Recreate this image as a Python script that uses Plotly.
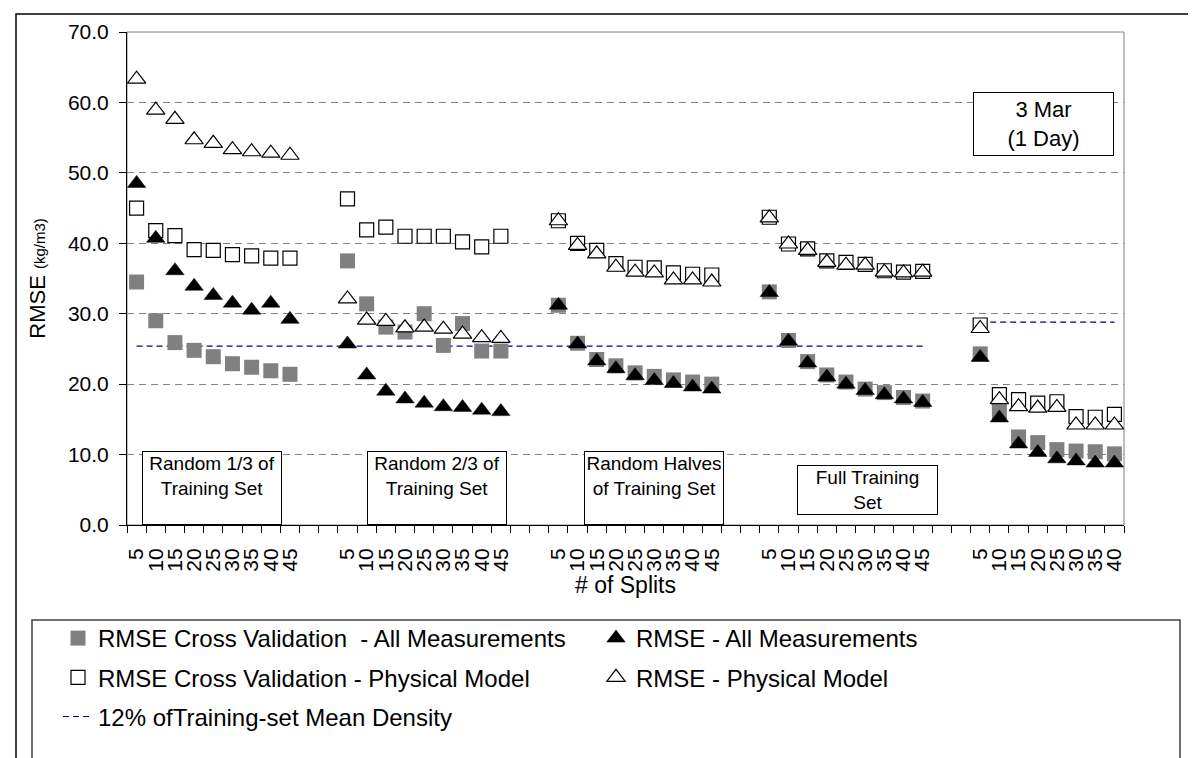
import numpy as np
import plotly.graph_objects as go

# ---- data ----
split_labels = [
    [5, 10, 15, 20, 25, 30, 35, 40, 45],
    [5, 10, 15, 20, 25, 30, 35, 40, 45],
    [5, 10, 15, 20, 25, 30, 35, 40, 45],
    [5, 10, 15, 20, 25, 30, 35, 40, 45],
    [5, 10, 15, 20, 25, 30, 35, 40],
]
group_names = [
    "Random 1/3 of<br>Training Set",
    "Random 2/3 of<br>Training Set",
    "Random Halves<br>of Training Set",
    "Full Training<br>Set",
]

cv_all = [
    [34.5, 29.0, 25.9, 24.8, 23.9, 22.9, 22.4, 21.9, 21.4],
    [37.5, 31.4, 28.1, 27.4, 30.0, 25.5, 28.6, 24.7, 24.7],
    [31.2, 25.8, 23.5, 22.6, 21.6, 21.1, 20.6, 20.3, 20.0],
    [33.1, 26.2, 23.2, 21.3, 20.3, 19.3, 18.8, 18.1, 17.6],
    [24.3, 16.1, 12.5, 11.7, 10.7, 10.5, 10.4, 10.1],
]
rmse_all = [
    [48.5, 40.7, 36.1, 33.9, 32.6, 31.5, 30.5, 31.5, 29.2],
    [25.7, 21.3, 19.0, 17.9, 17.3, 16.8, 16.7, 16.3, 16.1],
    [31.2, 25.7, 23.3, 22.2, 21.2, 20.5, 20.1, 19.6, 19.3],
    [33.0, 26.1, 23.0, 21.0, 20.0, 19.1, 18.5, 17.9, 17.4],
    [23.8, 15.2, 11.5, 10.3, 9.4, 9.1, 8.8, 8.8],
]
cv_phys = [
    [45.0, 41.8, 41.1, 39.1, 39.0, 38.4, 38.2, 37.9, 37.9],
    [46.3, 41.9, 42.3, 41.0, 41.0, 41.0, 40.2, 39.5, 41.0],
    [43.2, 40.0, 39.0, 37.1, 36.6, 36.5, 35.8, 35.6, 35.5],
    [43.7, 39.9, 39.2, 37.5, 37.3, 37.0, 36.1, 35.9, 36.0],
    [28.4, 18.5, 17.8, 17.3, 17.5, 15.4, 15.3, 15.7],
]
rmse_phys = [
    [63.3, 58.9, 57.6, 54.7, 54.2, 53.3, 53.0, 52.8, 52.5],
    [32.1, 29.1, 28.9, 28.0, 28.1, 27.8, 27.1, 26.6, 26.5],
    [43.2, 39.7, 38.5, 36.6, 35.9, 35.8, 34.8, 34.8, 34.5],
    [43.6, 39.9, 39.0, 37.3, 36.9, 36.9, 35.9, 35.8, 35.9],
    [27.9, 17.8, 16.8, 16.6, 16.7, 14.2, 14.2, 14.2],
]
# 12% of training-set mean density (groups 1-4, then group 5)
density_12pct = [25.4, 28.8]

FONT = "Liberation Sans, Arial, sans-serif"
GAP = 2  # empty category slots between groups

# category slot of every point (Excel-like category axis with blank slots)
xpos = []
start = 0
for labels in split_labels:
    xpos.append(list(range(start, start + len(labels))))
    start += len(labels) + GAP
n_slots = start - GAP

flat_x = [x for g in xpos for x in g]
flat = lambda series: [v for g in series for v in g]

# figure geometry in pixels
W, H = 1196, 758
L, R, T, B = 119, 80, 24, 241
PW, PH = W - L - R, H - T - B


def px_x(p):
    return (p - L) / PW


def px_y(p):
    return (H - B - p) / PH


fig = go.Figure()

# dashed 12% line: one segment over groups 1-4, one over group 5
line_x, line_y = [], []
for (a, b), val in zip([(xpos[0][0], xpos[3][-1]), (xpos[4][0], xpos[4][-1])], density_12pct):
    seg = list(range(a, b + 1))
    line_x += seg + [None]
    line_y += [val] * len(seg) + [None]
fig.add_trace(go.Scatter(
    x=line_x, y=line_y, mode="lines", name="12% ofTraining-set Mean Density",
    line=dict(color="#000080", width=1.2, dash="6px,4px"),
    legend="legend", legendgroup="d", legendrank=3,
))

fig.add_trace(go.Scatter(
    x=flat_x, y=flat(cv_all), mode="markers",
    name="RMSE Cross Validation  - All Measurements",
    marker=dict(symbol="square", size=15, color="#808080", line=dict(width=0)),
    legend="legend", legendgroup="a", legendrank=1,
))
fig.add_trace(go.Scatter(
    x=flat_x, y=flat(cv_phys), mode="markers",
    name="RMSE Cross Validation - Physical Model",
    marker=dict(symbol="square", size=14, color="white", line=dict(width=1.2, color="black")),
    legend="legend", legendgroup="b", legendrank=2,
))
fig.add_trace(go.Scatter(
    x=flat_x, y=flat(rmse_all), mode="markers",
    name="RMSE - All Measurements",
    marker=dict(symbol="triangle-up", size=16, color="black", line=dict(width=0.5, color="black")),
    legend="legend2", legendgroup="c", legendrank=1,
))
fig.add_trace(go.Scatter(
    x=flat_x, y=flat(rmse_phys), mode="markers",
    name="RMSE - Physical Model",
    marker=dict(symbol="triangle-up", size=16, color="white", line=dict(width=1.2, color="black")),
    legend="legend2", legendgroup="e", legendrank=2,
))

# text boxes
box_specs = [
    (group_names[0], 3.95, 0, "bottom", 136, 70, 19, "top"),
    (group_names[1], 15.69, 0, "bottom", 136, 70, 19, "top"),
    (group_names[2], 27.01, 0, "bottom", 136, 70, 19, "top"),
    (group_names[3], 38.14, 5.0, "middle", 137, 46, 19, "middle"),
    ("3 Mar<br>(1 Day)", 47.29, 57.0, "middle", 137, 60, 22, "middle"),
]
for text, bx, by, ya, bw, bh, fs, va in box_specs:
    fig.add_annotation(
        x=bx, y=by, xref="x", yref="y", yanchor=ya, text=text, showarrow=False,
        width=bw, height=bh, valign=va, align="center",
        bordercolor="black", borderwidth=1, borderpad=1, bgcolor="white",
        font=dict(family=FONT, size=fs, color="black"),
    )

tickvals = flat_x
ticktext = [str(v) for g in split_labels for v in g]

fig.update_xaxes(
    range=[-0.5, n_slots - 0.5], tickmode="array", tickvals=tickvals, ticktext=ticktext,
    tickangle=-90, ticks="", ticklabelstandoff=14,
    showline=True, linecolor="black", linewidth=1, showgrid=False, zeroline=False,
    minor=dict(tickmode="linear", tick0=-0.5, dtick=1, ticks="outside", ticklen=7,
               tickcolor="black", tickwidth=1, showgrid=False),
    tickfont=dict(family=FONT, size=21, color="black"),
    title=dict(text="# of Splits", font=dict(family=FONT, size=23, color="black"), standoff=6),
)
fig.update_yaxes(
    range=[0, 70], dtick=10, tickformat=".1f", ticks="outside", ticklen=7,
    tickcolor="black", showline=True, linecolor="black", linewidth=1,
    ticklabelstandoff=6,
    showgrid=True, gridcolor="#808080", griddash="7px,5px", gridwidth=1, zeroline=False,
    tickfont=dict(family=FONT, size=21, color="black"),
    title=dict(text="RMSE <span style='font-size:15px'>(kg/m3)</span>",
               font=dict(family=FONT, size=22, color="black"), standoff=16),
)

fig.update_layout(
    width=W, height=H,
    margin=dict(l=L, r=R, t=T, b=B, autoexpand=False),
    paper_bgcolor="white", plot_bgcolor="white",
    font=dict(family=FONT, color="black"),
    showlegend=True,
    legend=dict(x=px_x(50), y=px_y(608), xanchor="left", yanchor="top",
                font=dict(family=FONT, size=24, color="black"),
                bgcolor="rgba(0,0,0,0)", tracegroupgap=5, traceorder="grouped"),
    legend2=dict(x=px_x(588), y=px_y(608), xanchor="left", yanchor="top",
                 font=dict(family=FONT, size=24, color="black"),
                 bgcolor="rgba(0,0,0,0)", tracegroupgap=5, traceorder="grouped"),
    shapes=[
        # gray plot-area frame (top / right)
        dict(type="rect", xref="paper", yref="paper", x0=0, x1=1, y0=0, y1=1,
             line=dict(color="#808080", width=1), layer="below"),
        # legend frame
        dict(type="rect", xref="paper", yref="paper",
             x0=px_x(24), x1=px_x(1172), y0=px_y(612), y1=px_y(756),
             line=dict(color="#404040", width=1.5), layer="below"),
        # outer chart frame
        dict(type="rect", xref="paper", yref="paper",
             x0=px_x(8), x1=px_x(1205), y0=px_y(6), y1=px_y(770),
             line=dict(color="black", width=1.5), layer="below"),
    ],
)

fig.write_html("out.html")
